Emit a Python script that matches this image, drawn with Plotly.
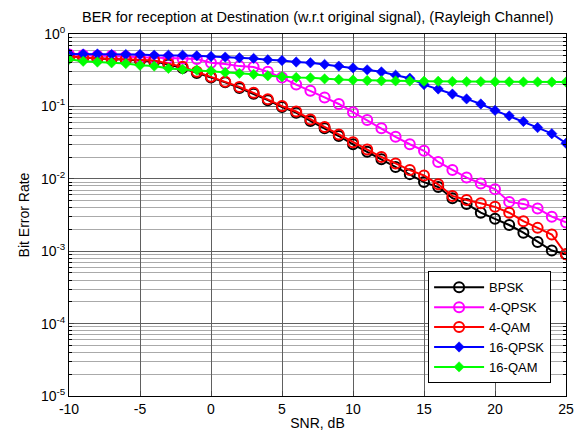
import plotly.graph_objects as go

snr = list(range(-10, 26))

ber_bpsk = [0.49, 0.47, 0.46, 0.45, 0.44, 0.43, 0.42, 0.38, 0.34, 0.29,
            0.25, 0.215, 0.18, 0.15, 0.122, 0.098, 0.082, 0.063, 0.050, 0.039,
            0.030, 0.0236, 0.0186, 0.0146, 0.0116, 0.0090, 0.0077, 0.0054, 0.0045, 0.0034,
            0.0028, 0.0023, 0.0018, 0.00134, 0.00102, 0.00091]
ber_4qpsk = [0.52, 0.51, 0.50, 0.50, 0.49, 0.48, 0.47, 0.465, 0.46, 0.45,
             0.40, 0.385, 0.36, 0.35, 0.30, 0.25, 0.20, 0.165, 0.133, 0.108,
             0.083, 0.065, 0.050, 0.038, 0.030, 0.0244, 0.0171, 0.0132, 0.0104, 0.0086,
             0.0072, 0.0048, 0.0045, 0.0039, 0.0030, 0.0025]
ber_4qam = [0.485, 0.47, 0.46, 0.45, 0.447, 0.437, 0.43, 0.39, 0.353, 0.30,
            0.257, 0.219, 0.186, 0.154, 0.126, 0.101, 0.085, 0.066, 0.052, 0.041,
            0.032, 0.0254, 0.020, 0.0163, 0.0132, 0.0111, 0.0084, 0.0058, 0.0051, 0.0046,
            0.0041, 0.0034, 0.0026, 0.0021, 0.0017, 0.00091]
ber_16qpsk = [0.53, 0.53, 0.53, 0.52, 0.52, 0.52, 0.51, 0.51, 0.51, 0.50,
              0.49, 0.48, 0.47, 0.46, 0.44, 0.43, 0.41, 0.40, 0.38, 0.36,
              0.34, 0.32, 0.30, 0.27, 0.245, 0.20, 0.174, 0.148, 0.127, 0.108,
              0.088, 0.074, 0.062, 0.051, 0.042, 0.031]
ber_16qam = [0.447, 0.42, 0.41, 0.40, 0.39, 0.37, 0.36, 0.335, 0.325, 0.318,
             0.31, 0.295, 0.286, 0.277, 0.265, 0.257, 0.251, 0.248, 0.24, 0.235,
             0.231, 0.228, 0.226, 0.225, 0.224, 0.223, 0.222, 0.221, 0.220, 0.220,
             0.219, 0.219, 0.218, 0.218, 0.217, 0.217]

y_tickvals = [1e-5, 1e-4, 1e-3, 1e-2, 1e-1, 1]
y_ticktext = ["10<sup>-5</sup>", "10<sup>-4</sup>", "10<sup>-3</sup>",
              "10<sup>-2</sup>", "10<sup>-1</sup>", "10<sup>0</sup>"]
x_tickvals = [-10, -5, 0, 5, 10, 15, 20, 25]
x_ticktext = ["-10", "-5", "0", "5", "10", "15", "20", "25"]

minor_vals = [m * 10 ** e for e in range(-5, 0) for m in range(2, 10)]

series = [
    ("BPSK", ber_bpsk, "#000000", "circle-open"),
    ("4-QPSK", ber_4qpsk, "#ff00ff", "circle-open"),
    ("4-QAM", ber_4qam, "#ff0000", "circle-open"),
    ("16-QPSK", ber_16qpsk, "#0000ff", "diamond"),
    ("16-QAM", ber_16qam, "#00ff00", "diamond"),
]

fig = go.Figure()
for name, vals, col, sym in series:
    if sym == "circle-open":
        marker = dict(symbol=sym, size=10, color=col, line=dict(width=2, color=col))
    else:
        marker = dict(symbol=sym, size=8, color=col, line=dict(width=0.5, color=col))
    fig.add_trace(go.Scatter(x=snr, y=vals, name=name, mode="lines+markers",
                             line=dict(color=col, width=2), marker=marker))

font = "Liberation Sans, Arial, sans-serif"
fig.update_layout(
    width=583, height=433,
    margin=dict(l=69, r=17, t=34, b=37),
    paper_bgcolor="white", plot_bgcolor="white",
    font=dict(family=font, size=14, color="black"),
    title=dict(text="BER for reception at Destination (w.r.t original signal), (Rayleigh Channel)",
               x=0.545, xanchor="center", y=0.962, yanchor="middle",
               font=dict(size=14.5, family=font)),
    xaxis=dict(range=[-10, 25], tickvals=x_tickvals, ticktext=x_ticktext,
               ticks="inside", ticklen=5, automargin=False,
               showline=True, linecolor="black", linewidth=1, mirror="ticks",
               showgrid=True, gridcolor="#606060", gridwidth=1, zeroline=False,
               title=dict(text="SNR, dB", standoff=2, font=dict(size=14)),
               tickfont=dict(size=14)),
    yaxis=dict(type="log", range=[-5, 0], tickvals=y_tickvals, ticktext=y_ticktext,
               ticks="inside", ticklen=5, automargin=False,
               showline=True, linecolor="black", linewidth=1, mirror="ticks",
               showgrid=True, gridcolor="#606060", gridwidth=1, zeroline=False,
               minor=dict(tickvals=minor_vals, showgrid=True, gridcolor="#aaaaaa",
                          ticks="inside", ticklen=3, tickcolor="black"),
               title=dict(text="Bit Error Rate", standoff=8, font=dict(size=14)),
               tickfont=dict(size=14)),
    legend=dict(x=0.97, xanchor="right", y=0.035, yanchor="bottom",
                bgcolor="white", bordercolor="black", borderwidth=1,
                font=dict(size=13), tracegroupgap=0, itemwidth=50),
)

fig.write_html("out.html")
